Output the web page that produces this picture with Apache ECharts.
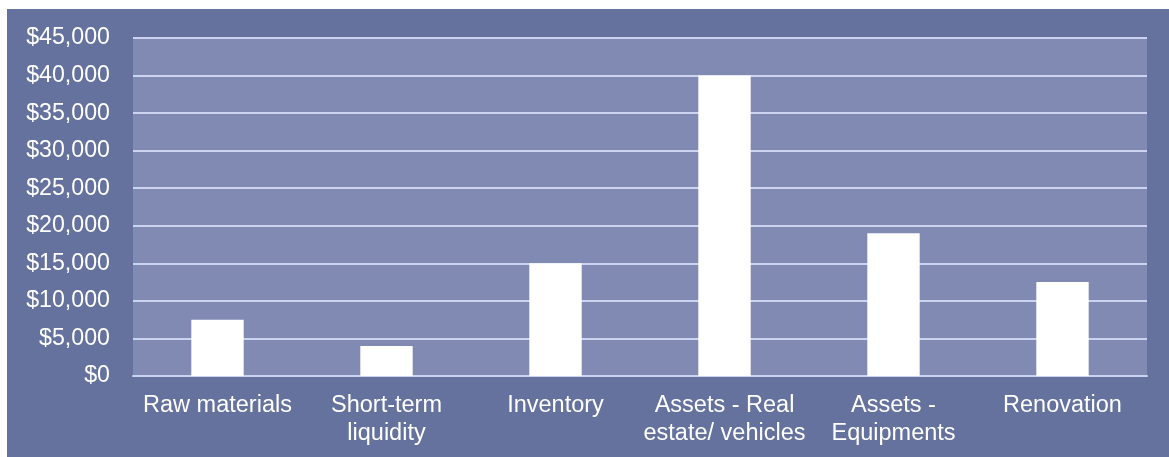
<!DOCTYPE html>
<html>
<head>
<meta charset="utf-8">
<script src="https://cdn.jsdelivr.net/npm/echarts@6/dist/echarts.min.js"></script>
<style>
  html, body { margin: 0; padding: 0; background: #ffffff; }
  #chart { position: absolute; left: 7px; top: 9px; width: 1162px; height: 448px; }
</style>
</head>
<body>
<div id="chart"></div>
<script>
// Funding needs by category (USD)
const categories = [
  'Raw materials',
  'Short-term\nliquidity',
  'Inventory',
  'Assets - Real\nestate/ vehicles',
  'Assets -\nEquipments',
  'Renovation'
];
const amounts = [7500, 4000, 15000, 40000, 19000, 12500];
const yMax = 45000;
const yStep = 5000;

const textColor = '#ffffff';
const gridColor = '#cbd3f0';
const font = 'Arial, "Liberation Sans", sans-serif';

const chart = echarts.init(document.getElementById('chart'), null, { renderer: 'canvas' });
chart.setOption({
  backgroundColor: '#65729e',
  animation: false,
  grid: {
    left: 126, right: 22, top: 29, bottom: 81,
    show: true, backgroundColor: '#818ab3', borderWidth: 0
  },
  xAxis: {
    type: 'category',
    data: categories,
    axisLine: { show: true, lineStyle: { color: gridColor, width: 2 } },
    axisTick: { show: false },
    axisLabel: {
      color: textColor, fontFamily: font, fontSize: 23.5, lineHeight: 28,
      margin: 16, interval: 0
    }
  },
  yAxis: {
    type: 'value',
    min: 0, max: yMax, interval: yStep,
    axisLine: { show: false },
    axisTick: { show: false },
    splitLine: { lineStyle: { color: gridColor, width: 2 } },
    axisLabel: {
      color: textColor, fontFamily: font, fontSize: 23.2, margin: 23,
      formatter: v => '$' + v.toLocaleString('en-US')
    }
  },
  series: [{
    type: 'bar',
    data: amounts,
    barWidth: '31%',
    itemStyle: { color: '#ffffff' }
  }]
});
</script>
</body>
</html>
